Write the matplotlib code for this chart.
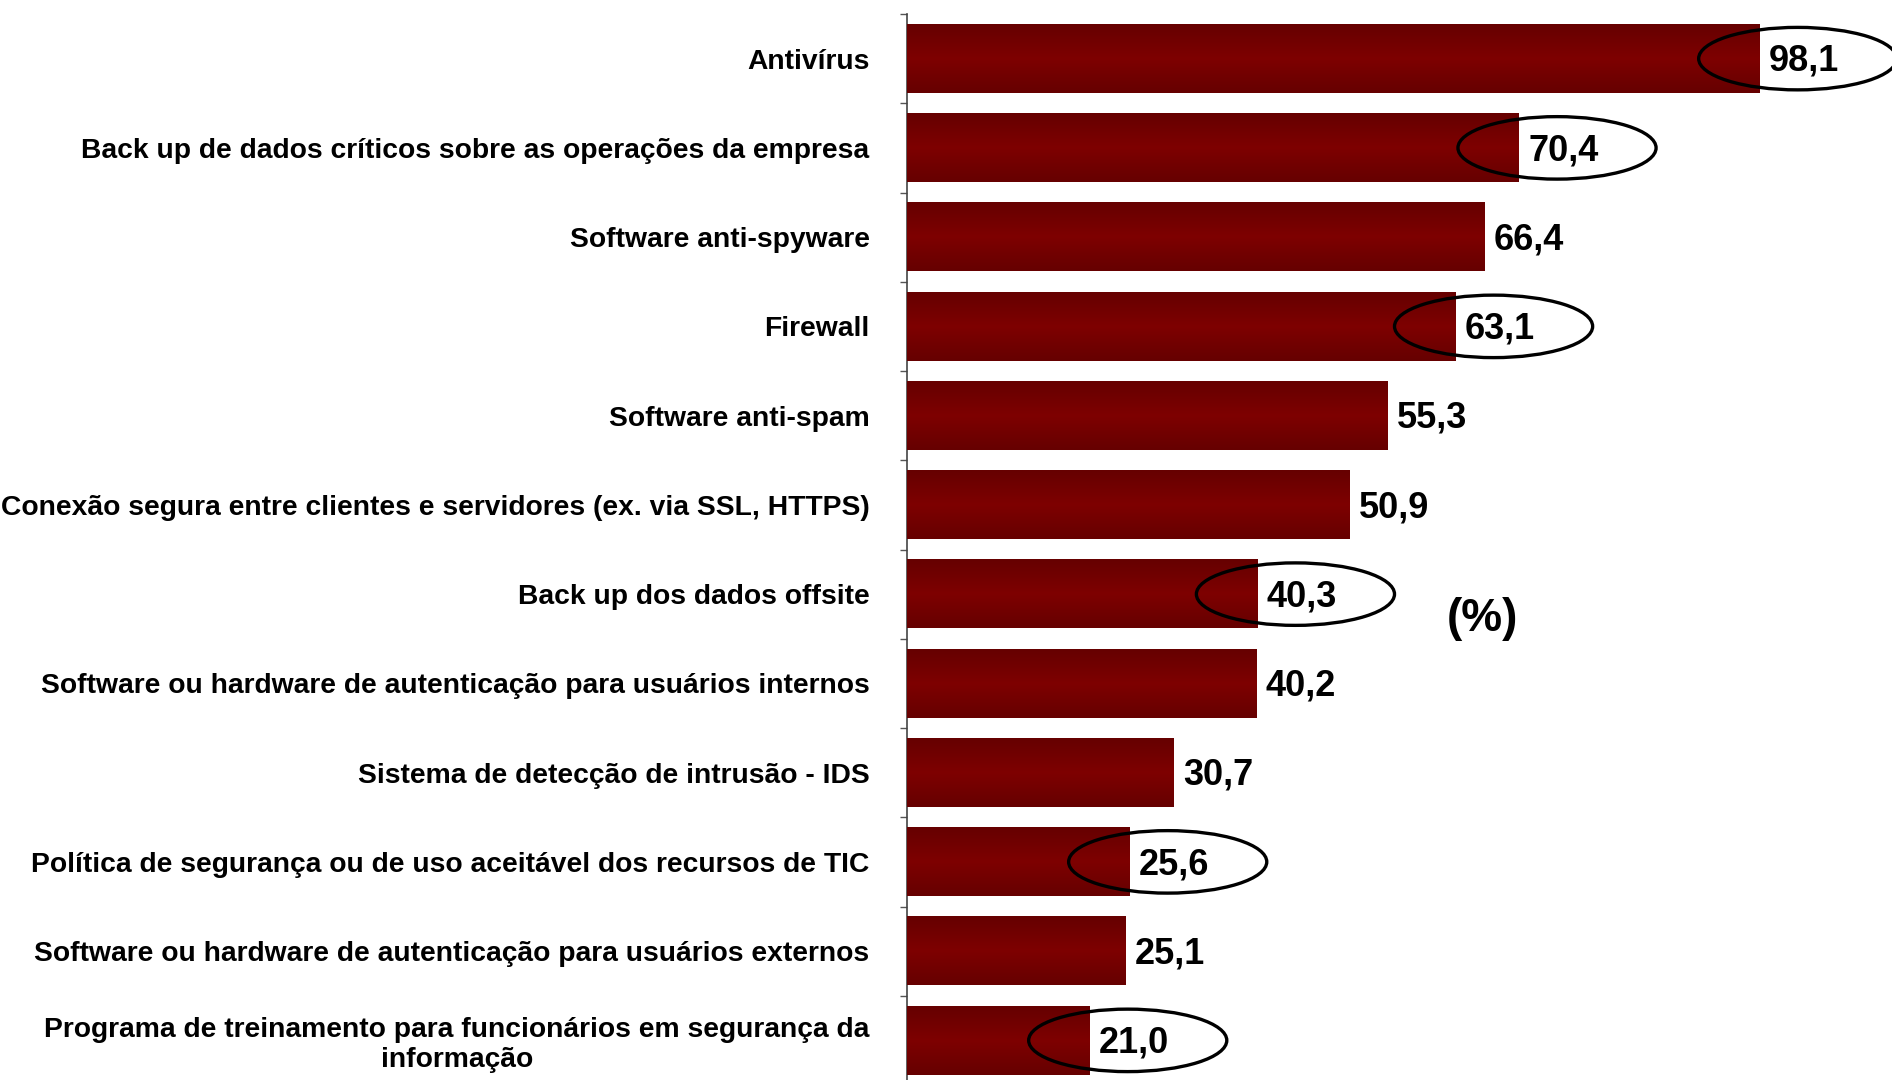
import numpy as np
import matplotlib.pyplot as plt
from matplotlib.colors import LinearSegmentedColormap
from matplotlib.patches import Ellipse

# data (percent of companies)
categories = [
    "Antivírus",
    "Back up de dados críticos sobre as operações da empresa",
    "Software anti-spyware",
    "Firewall",
    "Software anti-spam",
    "Conexão segura entre clientes e servidores (ex. via SSL, HTTPS)",
    "Back up dos dados offsite",
    "Software ou hardware de autenticação para usuários internos",
    "Sistema de detecção de intrusão - IDS",
    "Política de segurança ou de uso aceitável dos recursos de TIC",
    "Software ou hardware de autenticação para usuários externos",
    "Programa de treinamento para funcionários em segurança da\ninformação",
]
values = [98.1, 70.4, 66.4, 63.1, 55.3, 50.9, 40.3, 40.2, 30.7, 25.6, 25.1, 21.0]
circled = [True, True, False, True, False, False, True, False, False, True, False, True]

plt.rcParams['font.family'] = ['Liberation Sans', 'DejaVu Sans']

fig = plt.figure(figsize=(18.92, 10.8), dpi=100)
W, H = 1892, 1080
ax = fig.add_axes([907 / W, -5 / H, 869 / W, 1071 / H])

y = np.arange(len(categories))
bars = ax.barh(y, values, height=0.77, color='#780000', zorder=2)

# vertical shading on each bar: darker edges, brighter middle
cmap = LinearSegmentedColormap.from_list('bar', ['#660000', '#7e0000', '#660000'])
grad = np.linspace(0, 1, 64).reshape(-1, 1)
for rect in bars:
    x0, y0 = rect.get_x(), rect.get_y()
    ax.imshow(grad, extent=[x0, x0 + rect.get_width(), y0 + rect.get_height(), y0],
              aspect='auto', cmap=cmap, zorder=3, interpolation='bicubic')

for yi, v, c in zip(y, values, circled):
    ax.text(v + 1.1, yi + 0.03, f"{v:.1f}".replace('.', ','), va='center', ha='left',
            fontsize=26, fontweight='bold', color='black', zorder=5, clip_on=False)
    if c:
        ax.add_patch(Ellipse((v + 4.4, yi), 22.8, 0.7, fill=False, ec='black',
                             lw=2.4, zorder=6, clip_on=False))

ax.set_xlim(0, 100)
ax.set_ylim(len(categories) - 0.5, -0.5)

ax.set_yticks(y)
ax.set_yticklabels(categories, fontsize=20.3, fontweight='bold',
                   multialignment='center', linespacing=1.2)
ax.tick_params(axis='y', which='major', length=0, pad=27)
ax.set_yticks(np.arange(len(categories) + 1) - 0.5, minor=True)
ax.tick_params(axis='y', which='minor', length=5, width=1, color='#555555')
ax.set_xticks([])

for side in ['top', 'right', 'bottom']:
    ax.spines[side].set_visible(False)
ax.spines['left'].set_color('#444444')
ax.spines['left'].set_linewidth(1.2)

fig.text(1482 / W, 1 - 619 / H, "(%)", fontsize=33, fontweight='bold',
         ha='center', va='center')

fig.savefig('out.png', dpi=100)
